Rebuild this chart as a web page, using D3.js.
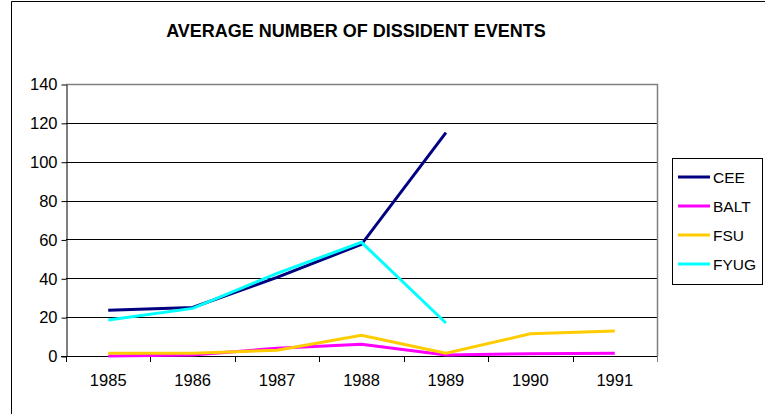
<!DOCTYPE html>
<html>
<head>
<meta charset="utf-8">
<script src="https://cdn.jsdelivr.net/npm/d3@7/dist/d3.min.js"></script>
<style>
  body { margin: 0; background: #fff; }
  text { font-family: "Liberation Sans", Arial, sans-serif; fill: #000; }
</style>
</head>
<body>
<div id="chart"></div>
<script>
// data
let years = ["1985", "1986", "1987", "1988", "1989", "1990", "1991"];
let seriesNames = ["CEE", "BALT", "FSU", "FYUG"];
let seriesColors = ["#000080", "#ff00ff", "#ffcc00", "#00ffff"];
let cee  = [23.5, 25, 40.5, 57.5, 115, null, null];
let balt = [0, 0.5, 4, 6, 0.5, 1.2, 1.4];
let fsu  = [1.4, 1.4, 3, 10.7, 1.4, 11.4, 12.9];
let fyug = [18.5, 24.5, 42.5, 58.5, 17, null, null];
let yTicks = [0, 20, 40, 60, 80, 100, 120, 140];

let allSeries = [cee, balt, fsu, fyug];

let width = 765, height = 414;
let plotLeft = 66, plotRight = 657, plotTop = 84, plotBottom = 356;

let svg = d3.select("#chart").append("svg")
	.attr("width", width)
	.attr("height", height);

svg.append("rect")
	.attr("width", width)
	.attr("height", height)
	.attr("fill", "#fff");

// chart area frame (cut off on the right and bottom)
svg.append("path")
	.attr("d", "M11.5,414V1.5H765")
	.attr("fill", "none")
	.attr("stroke", "#000")
	.attr("stroke-width", 1);

svg.append("text")
	.attr("x", 356)
	.attr("y", 37)
	.attr("text-anchor", "middle")
	.style("font-size", "18px")
	.style("font-weight", "bold")
	.text("AVERAGE NUMBER OF DISSIDENT EVENTS");

let x = d3.scaleBand()
	.domain(years)
	.range([plotLeft, plotRight]);

let y = d3.scaleLinear()
	.domain([0, 140])
	.range([plotBottom, plotTop]);

// gridlines
svg.append("g")
	.selectAll("line")
	.data(yTicks.filter(function(d) { return d > 0 && d < 140; }))
	.enter().append("line")
	.attr("x1", plotLeft)
	.attr("x2", plotRight)
	.attr("y1", function(d) { return Math.round(y(d)) + 0.5; })
	.attr("y2", function(d) { return Math.round(y(d)) + 0.5; })
	.attr("stroke", "#000");

// plot area border top / right
svg.append("path")
	.attr("d", "M" + plotLeft + "," + (plotTop + 0.5) + "H" + (plotRight + 0.5) + "V" + plotBottom)
	.attr("fill", "none")
	.attr("stroke", "#808080")
	.attr("stroke-width", 1.5);

// y axis
let yAxis = svg.append("g")
	.attr("transform", "translate(" + (plotLeft + 0.5) + ",0.5)")
	.call(d3.axisLeft(y).tickValues(yTicks).tickSize(5).tickPadding(4).tickSizeOuter(0));
yAxis.select(".domain").attr("stroke", "#000");
yAxis.selectAll("text").style("font-size", "16.5px").style("font-family", "Liberation Sans, Arial, sans-serif");
yAxis.selectAll("line").attr("stroke", "#000");

// x axis: labels centred on categories, ticks between them
let xAxis = svg.append("g")
	.attr("transform", "translate(0," + (plotBottom + 0.5) + ")")
	.call(d3.axisBottom(x).tickSize(0).tickPadding(18).tickSizeOuter(0));
xAxis.select(".domain").remove();
xAxis.selectAll("text").style("font-size", "16.5px").style("font-family", "Liberation Sans, Arial, sans-serif");

svg.append("line")
	.attr("x1", plotLeft - 5)
	.attr("x2", plotRight)
	.attr("y1", plotBottom + 0.5)
	.attr("y2", plotBottom + 0.5)
	.attr("stroke", "#000");

let bounds = years.map(function(d) { return x(d); }).concat([x.range()[1]]);
svg.append("g")
	.selectAll("line")
	.data(bounds)
	.enter().append("line")
	.attr("x1", function(d) { return Math.round(d) + 0.5; })
	.attr("x2", function(d) { return Math.round(d) + 0.5; })
	.attr("y1", plotBottom)
	.attr("y2", plotBottom + 6)
	.attr("stroke", function(d, i) { return i == bounds.length - 1 ? "#808080" : "#000"; });

// lines
let line = d3.line()
	.defined(function(d) { return d != null; })
	.x(function(d, i) { return x(years[i]) + x.bandwidth() / 2; })
	.y(function(d) { return y(d); });

svg.append("g")
	.selectAll("path")
	.data(allSeries)
	.enter().append("path")
	.attr("d", line)
	.attr("fill", "none")
	.attr("stroke", function(d, i) { return seriesColors[i]; })
	.attr("stroke-width", 3);

// legend
let legend = svg.append("g");
legend.append("rect")
	.attr("x", 672.5)
	.attr("y", 158.5)
	.attr("width", 90)
	.attr("height", 126)
	.attr("fill", "#fff")
	.attr("stroke", "#000");

let item = legend.selectAll(".item")
	.data(seriesNames)
	.enter().append("g")
	.attr("class", "item")
	.attr("transform", function(d, i) { return "translate(678," + (177 + i * 29) + ")"; });

item.append("line")
	.attr("x1", 0)
	.attr("x2", 32)
	.attr("stroke", function(d, i) { return seriesColors[i]; })
	.attr("stroke-width", 3);

item.append("text")
	.attr("x", 35)
	.attr("dy", "0.36em")
	.style("font-size", "15.5px")
	.text(function(d) { return d; });
</script>
</body>
</html>
